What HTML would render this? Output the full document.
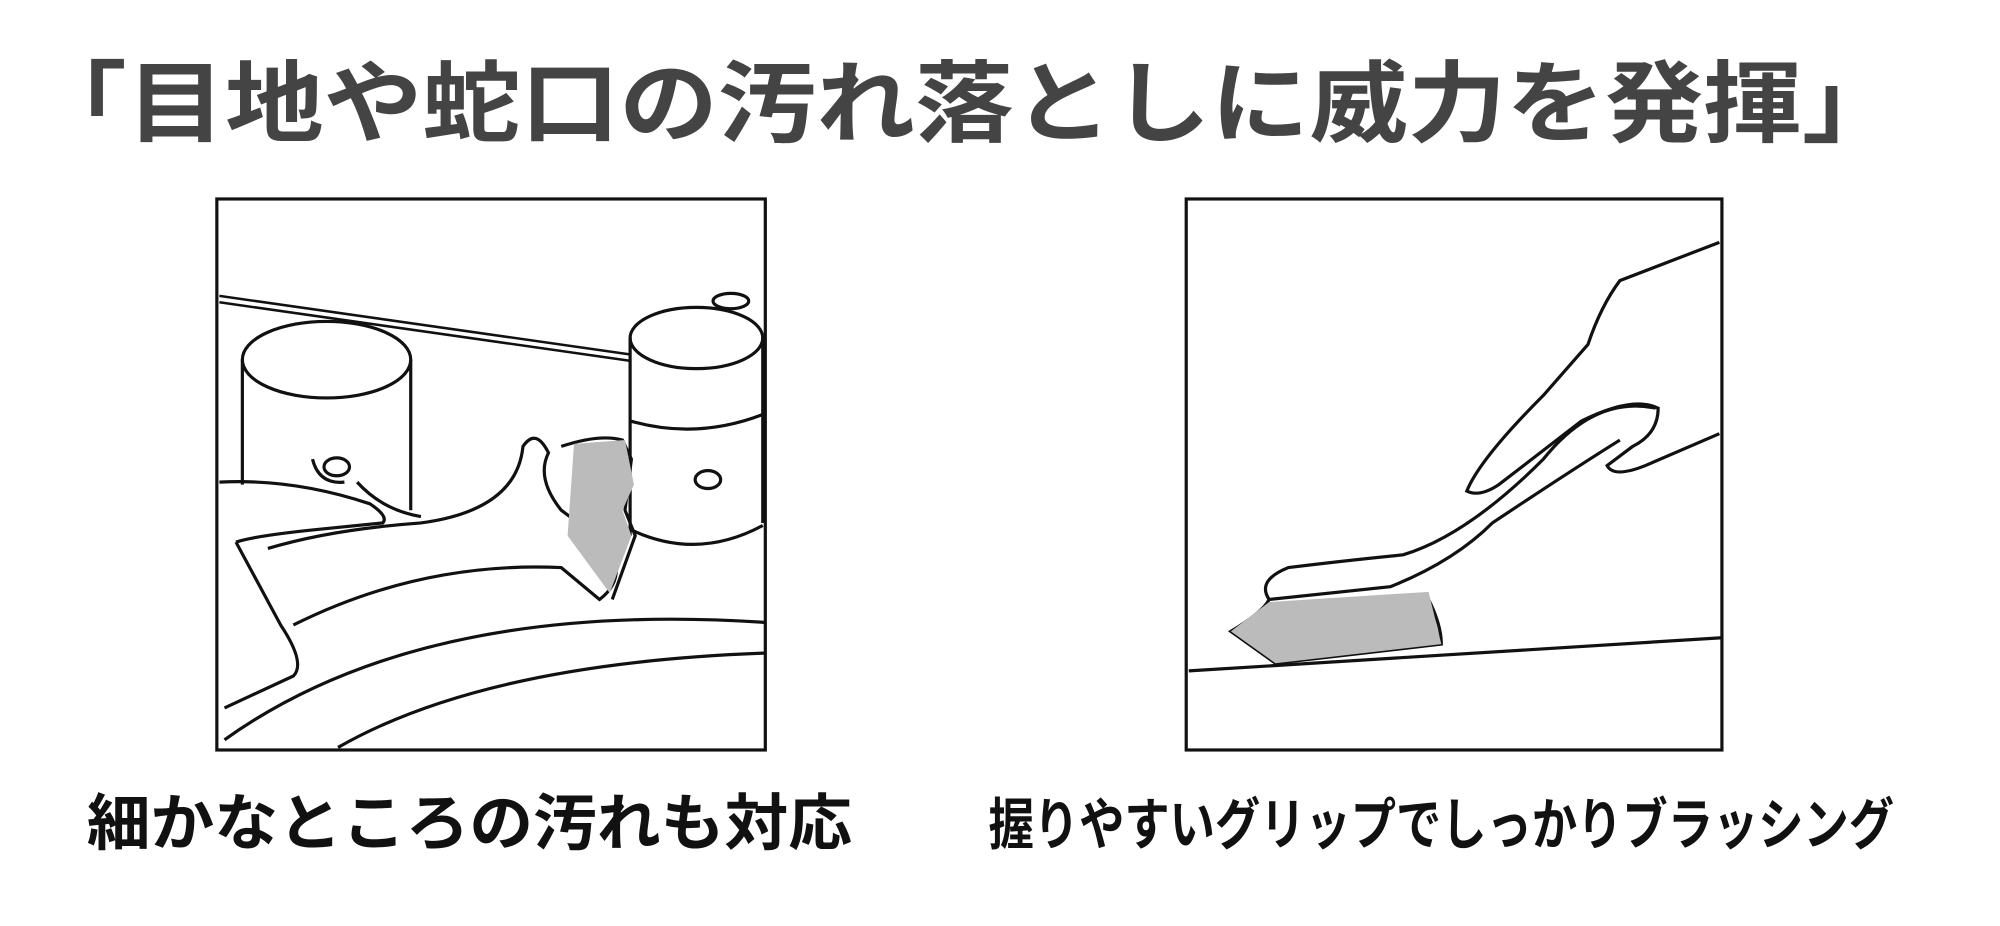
<!DOCTYPE html>
<html><head><meta charset="utf-8"><style>
html,body{margin:0;padding:0;background:#fff;}
svg{display:block}
</style></head><body>
<svg width="2000" height="926" viewBox="0 0 1568 726" xmlns="http://www.w3.org/2000/svg">
<rect width="1568" height="726" fill="#fff"/>
<text x="22" y="106" font-family="'Liberation Sans','Noto Sans CJK JP',sans-serif" font-weight="bold" font-size="70" fill="#444" textLength="1468" lengthAdjust="spacingAndGlyphs">「目地や蛇口の汚れ落としに威力を発揮」</text>

<!-- left panel -->
<g fill="none" stroke="#111" stroke-width="2.5">
<rect x="170" y="156" width="430" height="432"/>
<path d="M172 237 L495 283 M172 232 L495 278" stroke-width="2"/>
<ellipse cx="256" cy="282" rx="66" ry="30"/>
<path d="M190 282 V380 M322 282 V400"/>
<ellipse cx="546" cy="265" rx="52" ry="24"/>
<path d="M494 265 V420 M598 265 V410"/>
<path d="M494 330 Q546 345 598 325"/>
<path d="M494 415 Q546 440 598 412"/>
<ellipse cx="573" cy="236" rx="14" ry="6"/>
<ellipse cx="555" cy="376" rx="10" ry="7"/>
<ellipse cx="264" cy="366" rx="10" ry="7"/>
<path d="M245 360 Q250 380 270 378 M280 378 Q300 400 330 405"/>
<path d="M172 378 Q230 375 290 395 Q305 405 300 410 L250 415 Q200 420 185 425"/>
<path d="M185 425 L220 490 Q240 520 230 530 L176 555"/>
<path d="M230 490 Q330 440 440 445 L470 470 Q490 455 480 430 L440 400 Q420 375 430 355 Q420 335 410 350 Q405 400 330 410 Q260 415 210 430"/>
<path d="M440 350 Q470 340 488 345 L495 360 L490 400 L498 420 L480 470"/>
<path d="M176 580 Q330 470 600 488"/>
<path d="M265 586 Q380 520 600 512"/>
</g>
<path d="M450 348 L490 345 L497 380 L488 400 L495 420 L478 465 L445 420 Z" fill="#bbb" stroke="none"/>

<!-- right panel -->
<g fill="none" stroke="#111" stroke-width="2.5">
<rect x="930" y="156" width="420" height="432"/>
<path d="M932 526 L1350 500"/>
<path d="M1348 190 L1270 220 Q1255 240 1245 270 L1210 310 Q1160 360 1150 385 Q1160 390 1175 380 L1240 330 Q1280 310 1300 320 Q1300 340 1280 350 L1260 365 Q1265 375 1290 365 L1348 340"/>
<path d="M1298 320 Q1250 310 1210 360 Q1150 420 1100 435 Q1050 440 1010 445 Q985 455 995 470 L1090 460 Q1140 440 1170 410 Q1230 370 1270 345"/>
<path d="M1120 470 Q1130 490 1130 505 L1000 520 L965 495 Q990 480 995 470"/>
</g>
<path d="M995 472 L1120 464 L1130 505 L1000 520 L965 495 Z" fill="#bbb"/>

<text x="68" y="662" font-family="'Liberation Sans','Noto Sans CJK JP',sans-serif" font-weight="bold" font-size="48" fill="#111" textLength="600" lengthAdjust="spacingAndGlyphs">細かなところの汚れも対応</text>
<text x="775" y="662" font-family="'Liberation Sans','Noto Sans CJK JP',sans-serif" font-weight="bold" font-size="44" fill="#111" textLength="710" lengthAdjust="spacingAndGlyphs">握りやすいグリップでしっかりブラッシング</text>
</svg>
</body></html>
